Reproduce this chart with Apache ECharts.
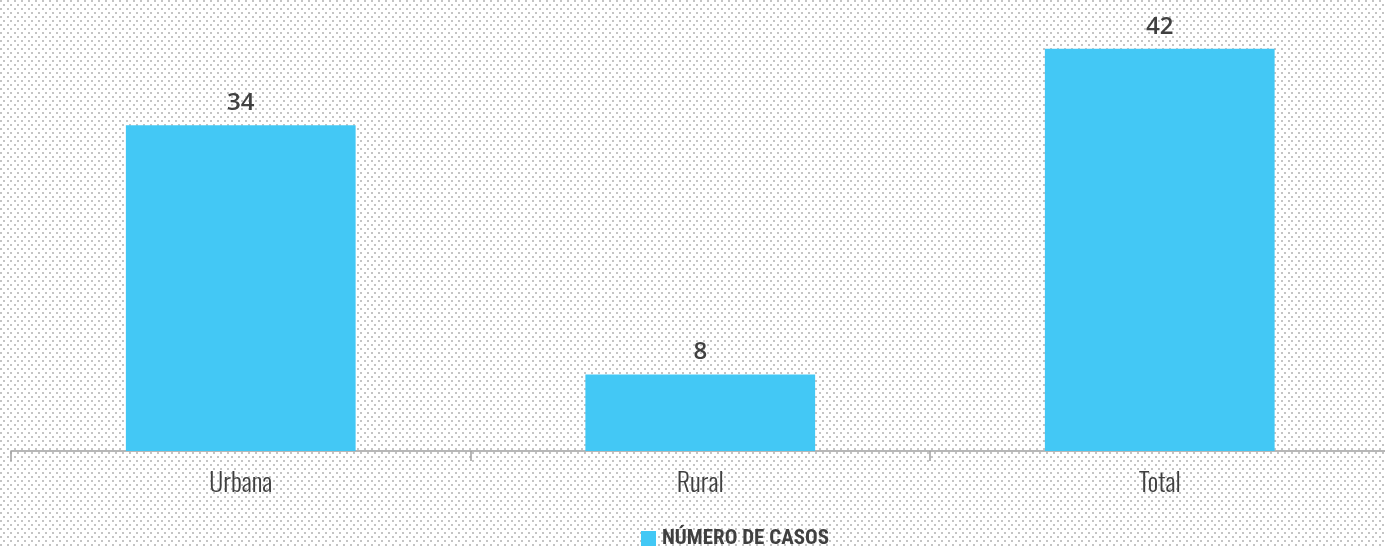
<!DOCTYPE html>
<html><head><meta charset="utf-8">
<script src="https://cdn.jsdelivr.net/npm/echarts@6/dist/echarts.min.js"></script>
<style>html,body{margin:0;padding:0;background:#fff}#c{width:1385px;height:548px}</style>
</head><body><div id="c"></div>
<script>
const categories = ['Urbana', 'Rural', 'Total'];
const values = [34, 8, 42];
const seriesName = 'NÚMERO DE CASOS';

const tile = document.createElement('canvas');
tile.width = 7; tile.height = 8;
const tctx = tile.getContext('2d');
tctx.fillStyle = '#ffffff'; tctx.fillRect(0,0,7,8);
tctx.fillStyle = '#c4c4c4';
tctx.fillRect(0,0,2,2);
tctx.fillRect(3,4,2,2);

const condensed = '"Roboto Condensed","Oswald",sans-serif';
const chart = echarts.init(document.getElementById('c'), null, {renderer:'canvas'});
chart.setOption({
  animation:false,
  backgroundColor:{image:tile, repeat:'repeat'},
  grid:{left:11, width:1378.5, top:20, bottom:97, containLabel:false, outerBoundsMode:'none'},
  legend:{
    top:528, left:641, itemWidth:15, itemHeight:15, itemGap:5,
    padding:0,
    icon:'rect',
    textStyle:{fontFamily:condensed, fontWeight:'bold', fontSize:21, lineHeight:15, color:'#404040', padding:[0,0,0,1]},
    data:[seriesName]
  },
  xAxis:{
    type:'category', data:categories,
    axisLine:{lineStyle:{color:'#a0a0a0', width:1.5}},
    axisTick:{show:true, length:10, lineStyle:{color:'#a0a0a0', width:1.5}},
    axisLabel:{margin:20, fontSize:26, fontWeight:300, color:'#404040', fontFamily:'"Oswald","Roboto Condensed",sans-serif'}
  },
  yAxis:{type:'value', min:0, max:45, show:false, splitLine:{show:false}},
  series:[{
    name:seriesName, type:'bar', data:values, barWidth:'50%',
    itemStyle:{color:'#43C8F5'},
    label:{show:true, position:'top', distance:10, fontSize:24, fontWeight:600, color:'#404040', fontFamily:'"Open Sans",sans-serif'}
  }]
});
</script></body></html>
